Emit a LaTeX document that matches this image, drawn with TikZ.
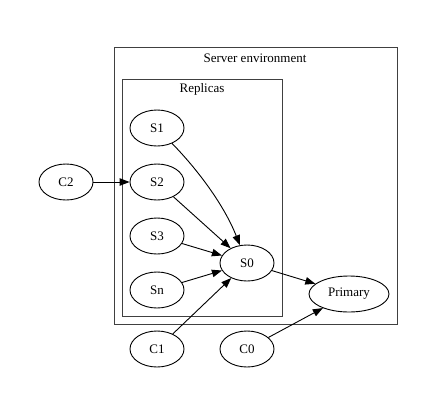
\documentclass[tikz,border=0pt]{standalone}
\usepackage{fontspec}
\setmainfont{Liberation Serif}
\usetikzlibrary{arrows.meta,shapes.geometric}
\begin{document}
\begin{tikzpicture}[x=1pt,y=-1pt,
  nd/.style={draw,ellipse,line width=0.9pt,minimum width=54pt,minimum height=36pt,inner sep=0pt,font=\fontsize{13}{15}\selectfont},
  cl/.style={draw=black!75,line width=1pt},
  ed/.style={line width=0.9pt,-{Triangle[length=10pt,width=7.5pt]}},
  lbl/.style={font=\fontsize{13}{15}\selectfont,inner sep=0pt}]
\useasboundingbox (0,0) rectangle (445,408);
\fill[white] (0,0) rectangle (445,408);
\draw[cl] (114,47) rectangle (397,324);
\node[lbl] (envlbl) at (255,58) {Server environment};
\draw[cl] (122,79) rectangle (282,316);
\node[lbl] (replbl) at (202,89) {Replicas};
\node[nd] (S1) at (157,128) {S1};
\node[nd] (S2) at (157,182) {S2};
\node[nd] (S3) at (157,236) {S3};
\node[nd] (Sn) at (157,290) {Sn};
\node[nd] (S0) at (247,263) {S0};
\node[nd,minimum width=80pt] (P) at (349,294) {Primary};
\node[nd] (C2) at (66,182) {C2};
\node[nd] (C1) at (157,349) {C1};
\node[nd] (C0) at (247,349) {C0};
\draw[ed] (C2) -- (S2);
\draw[ed] (S1) .. controls (198,170) and (224,205) .. (S0);
\draw[ed] (S2) -- (S0);
\draw[ed] (S3) -- (S0);
\draw[ed] (Sn) -- (S0);
\draw[ed] (C1) -- (S0);
\draw[ed] (S0) -- (P);
\draw[ed] (C0) -- (P);
\end{tikzpicture}
\end{document}
